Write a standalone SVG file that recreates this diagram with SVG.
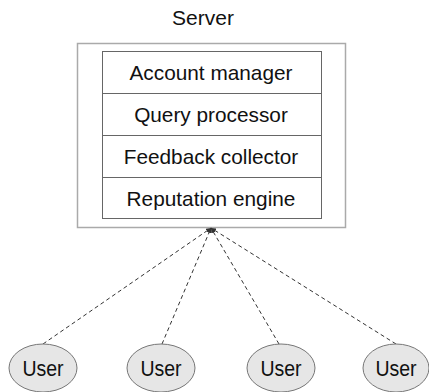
<svg xmlns="http://www.w3.org/2000/svg" width="429" height="392" viewBox="0 0 429 392">
<style>
text{font-family:"Liberation Sans",Arial,sans-serif;fill:#111;text-anchor:middle}
.lbl{font-size:20.8px}
.user ellipse{fill:#e6e6e6;stroke:#777;stroke-width:1}
.user text{font-size:19.5px}
.conn line{stroke:#333;stroke-width:1;stroke-dasharray:4 3;fill:none}
</style>
<defs>
<marker id="ah" viewBox="0 0 10 10" refX="10" refY="5" markerWidth="5" markerHeight="5" orient="auto">
<path d="M0,0 L10,5 L0,10 z" fill="#333"/>
</marker>
</defs>
<rect width="429" height="392" fill="#fff"/>
<g id="server">
<text x="203" y="25" style="font-size:21px">Server</text>
<rect x="77.5" y="43.5" width="268" height="184" fill="#fff" stroke="#aaa" stroke-width="1.5"/>
</g>
<g id="account-manager">
<rect x="102.5" y="51.5" width="219" height="42" fill="#fff" stroke="#666"/>
<text class="lbl" x="211" y="79.5">Account manager</text>
</g>
<g id="query-processor">
<rect x="102.5" y="93.5" width="219" height="42" fill="#fff" stroke="#666"/>
<text class="lbl" x="211" y="121.5">Query processor</text>
</g>
<g id="feedback-collector">
<rect x="102.5" y="135.5" width="219" height="42" fill="#fff" stroke="#666"/>
<text class="lbl" x="211" y="163.5">Feedback collector</text>
</g>
<g id="reputation-engine">
<rect x="102.5" y="177.5" width="219" height="41" fill="#fff" stroke="#666"/>
<text class="lbl" x="211" y="205.5">Reputation engine</text>
</g>
<g id="connectors" class="conn">
<line x1="43" y1="344" x2="211" y2="228" marker-end="url(#ah)"/>
<line x1="162" y1="344" x2="211" y2="228" marker-end="url(#ah)"/>
<line x1="279" y1="344" x2="211" y2="228" marker-end="url(#ah)"/>
<line x1="396" y1="344" x2="211" y2="228" marker-end="url(#ah)"/>
</g>
<g id="user1" class="user">
<ellipse cx="43" cy="368" rx="34" ry="24"/>
<text transform="translate(43 376) scale(1 1.17)">User</text>
</g>
<g id="user2" class="user">
<ellipse cx="161" cy="368" rx="34" ry="24"/>
<text transform="translate(161 376) scale(1 1.17)">User</text>
</g>
<g id="user3" class="user">
<ellipse cx="281" cy="368" rx="34" ry="24"/>
<text transform="translate(281 376) scale(1 1.17)">User</text>
</g>
<g id="user4" class="user">
<ellipse cx="396" cy="368" rx="33" ry="24"/>
<text transform="translate(396 376) scale(1 1.17)">User</text>
</g>
</svg>
